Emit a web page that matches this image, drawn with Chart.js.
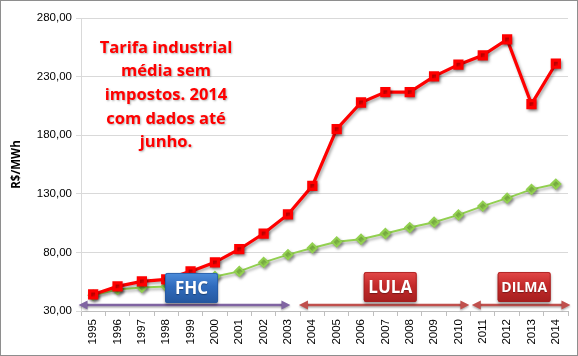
<!DOCTYPE html>
<html>
<head>
<meta charset="utf-8">
<script src="https://cdn.jsdelivr.net/npm/chart.js@4"></script>
<style>
html,body{margin:0;padding:0;background:#fff;}
#wrap{position:relative;width:578px;height:356px;box-sizing:border-box;}
#frame{position:absolute;left:0;top:0;width:576px;height:354px;border:1px solid #8e8e8e;pointer-events:none;}
canvas{position:absolute;left:0;top:0;}
</style>
</head>
<body>
<div id="wrap"><canvas id="c" width="578" height="356"></canvas><div id="frame"></div></div>
<script>
const categories = ['1995','1996','1997','1998','1999','2000','2001','2002','2003','2004','2005','2006','2007','2008','2009','2010','2011','2012','2013','2014'];
const tarifaIndustrial = [44.1,51.0,55.3,57.0,63.8,71.5,82.7,96.1,112.4,136.8,185.1,207.9,216.8,216.8,230.2,240.2,248.2,261.7,206.5,241.0];
const referencia = [43.5,48.4,50.1,51.0,54.5,59.5,63.8,71.5,78.1,83.8,89.0,91.2,96.1,101.2,105.8,112.0,119.5,126.3,133.8,138.3];
const yTicks = [30,80,130,180,230,280];
const periodNames = ['FHC','LULA','DILMA'];
const periodStart = [-0.6, 8.45, 15.55];
const periodEnd = [8.1, 15.45, 19.6];
const periodBoxCenter = [4.04, 12.2, 17.7];
const periodBoxValue = [49.7, 50.5, 50.5];
const periodGradients = [['#4d8ddb','#2f6bbd','#25589f'],['#e24848','#c42a2a','#a51f1f'],['#e24848','#c42a2a','#a51f1f']];
const arrowColors = ['#8064a2','#c0504d','#c0504d'];
const noteLines = ['Tarifa industrial','média sem','impostos. 2014','com dados até','junho.'];

const shadowPlugin = {
  id:'shadow',
  beforeDatasetDraw(chart,args){
    const ctx=chart.ctx; ctx.save();
    ctx.shadowColor='rgba(0,0,0,0.35)';
    ctx.shadowBlur=3; ctx.shadowOffsetX=1.5; ctx.shadowOffsetY=2;
  },
  afterDatasetDraw(chart){ chart.ctx.restore(); }
};

function roundRect(ctx,x,y,w,h,r){
  ctx.beginPath();
  ctx.moveTo(x+r,y);ctx.lineTo(x+w-r,y);ctx.quadraticCurveTo(x+w,y,x+w,y+r);
  ctx.lineTo(x+w,y+h-r);ctx.quadraticCurveTo(x+w,y+h,x+w-r,y+h);
  ctx.lineTo(x+r,y+h);ctx.quadraticCurveTo(x,y+h,x,y+h-r);
  ctx.lineTo(x,y+r);ctx.quadraticCurveTo(x,y,x+r,y);ctx.closePath();
}
function arrow(ctx,x1,x2,y,color){
  ctx.save();
  ctx.strokeStyle=color;ctx.fillStyle=color;ctx.lineWidth=2.5;
  ctx.shadowColor='rgba(0,0,0,0.3)';ctx.shadowBlur=2;ctx.shadowOffsetY=1.5;
  ctx.beginPath();ctx.moveTo(x1+6,y);ctx.lineTo(x2-6,y);ctx.stroke();
  ctx.beginPath();ctx.moveTo(x1,y);ctx.lineTo(x1+9,y-4.5);ctx.lineTo(x1+9,y+4.5);ctx.closePath();ctx.fill();
  ctx.beginPath();ctx.moveTo(x2,y);ctx.lineTo(x2-9,y-4.5);ctx.lineTo(x2-9,y+4.5);ctx.closePath();ctx.fill();
  ctx.restore();
}

const annotPlugin = {
  id:'annot',
  afterDatasetsDraw(chart){
    const ctx=chart.ctx, xs=chart.scales.x, ys=chart.scales.y;
    const ay=ys.getPixelForValue(30)-6;
    for(let i=0;i<periodNames.length;i++){
      const x1=xs.getPixelForValue(periodStart[i]), x2=xs.getPixelForValue(periodEnd[i]);
      arrow(ctx,x1,x2,ay,arrowColors[i]);
    }
    for(let i=0;i<periodNames.length;i++){
      const cx=xs.getPixelForValue(periodBoxCenter[i]), cy=ys.getPixelForValue(periodBoxValue[i]);
      const w=53,h=30,x=cx-w/2,y=cy-h/2;
      const gc=periodGradients[i];
      ctx.save();
      ctx.shadowColor='rgba(0,0,0,0.4)';ctx.shadowBlur=3;ctx.shadowOffsetY=2;
      const g=ctx.createLinearGradient(0,y,0,y+h);
      g.addColorStop(0,gc[0]);
      g.addColorStop(0.45,gc[1]);
      g.addColorStop(1,gc[2]);
      roundRect(ctx,x,y,w,h,2);ctx.fillStyle=g;ctx.fill();
      ctx.restore();
      ctx.save();
      ctx.strokeStyle=gc[2];ctx.lineWidth=0.8;
      roundRect(ctx,x+0.5,y+0.5,w-1,h-1,2);ctx.stroke();
      ctx.fillStyle='#fff';
      ctx.font='bold '+(periodNames[i].length>4?14:17)+'px "Open Sans", "DejaVu Sans", sans-serif';
      ctx.textAlign='center';ctx.textBaseline='middle';
      ctx.shadowColor='rgba(0,0,0,0.35)';ctx.shadowBlur=1;ctx.shadowOffsetY=1;
      ctx.fillText(periodNames[i],cx,cy+1);
      ctx.restore();
    }
    // note
    ctx.save();
    ctx.font='bold 16.5px "Open Sans", "DejaVu Sans", sans-serif';
    ctx.fillStyle='#ff0000';ctx.textAlign='center';ctx.textBaseline='middle';
    ctx.shadowColor='rgba(0,0,0,0.3)';ctx.shadowBlur=2;ctx.shadowOffsetX=1;ctx.shadowOffsetY=1;
    noteLines.forEach((t,k)=>ctx.fillText(t,166,48+k*23.6));
    ctx.restore();
  }
};

new Chart(document.getElementById('c'),{
  type:'line',
  data:{
    labels:categories,
    datasets:[
      {label:'Referência',data:referencia,borderColor:'#92d050',backgroundColor:'#92d050',borderWidth:2,
       pointStyle:'rectRot',pointRadius:4.5,pointBackgroundColor:'#92d050',pointBorderColor:'#92d050',tension:0,order:2},
      {label:'Tarifa industrial',data:tarifaIndustrial,borderColor:'#ff0000',backgroundColor:'#ff0000',borderWidth:3.2,
       pointStyle:'rect',pointRadius:5,pointBackgroundColor:'#ff0000',pointBorderColor:'#ff0000',tension:0,order:1}
    ]
  },
  options:{
    responsive:false,animation:false,devicePixelRatio:1,
    layout:{padding:{left:0,right:10,top:18,bottom:0}},
    plugins:{legend:{display:false},tooltip:{enabled:false},title:{display:false}},
    scales:{
      x:{type:'category',offset:true,
        grid:{display:true,drawOnChartArea:false,drawTicks:true,tickLength:5,offset:true,color:'#bfbfbf'},
        border:{display:true,color:'#bfbfbf'},
        ticks:{minRotation:90,maxRotation:90,autoSkip:false,color:'#000',padding:3,
          font:{family:'"Liberation Sans", Arial, sans-serif',size:11.5}},
        afterFit(s){s.height=45;}
      },
      y:{min:30,max:280,
        afterBuildTicks(s){s.ticks=yTicks.map(v=>({value:v}));},
        grid:{color:'#d9d9d9',drawTicks:true,tickLength:5,lineWidth:1},
        border:{display:true,color:'#d9d9d9'},
        ticks:{color:'#000',padding:4,font:{family:'"Liberation Sans", Arial, sans-serif',size:11.5},
          callback:v=>v.toFixed(2).replace('.',',')},
        title:{display:true,text:'R$/MWh',color:'#000',padding:{top:10,bottom:4},
          font:{family:'"Open Sans", "DejaVu Sans", sans-serif',size:11.5,weight:'bold'}},
        afterFit(s){s.width=81;}
      }
    }
  },
  plugins:[shadowPlugin,annotPlugin]
});
</script>
</body>
</html>
